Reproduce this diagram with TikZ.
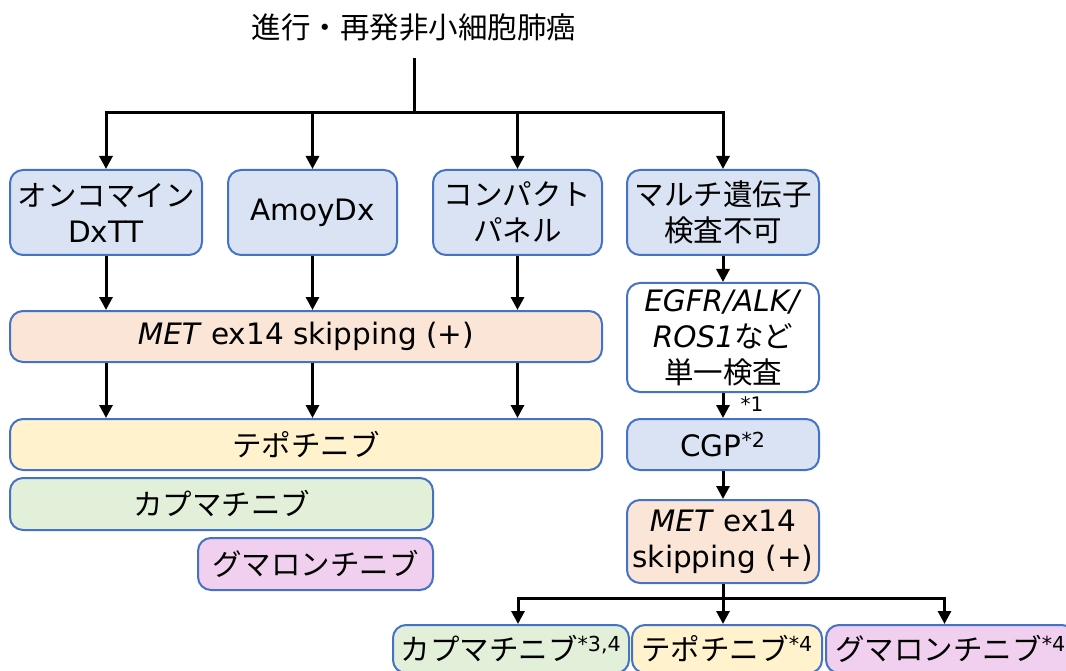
\documentclass[tikz,border=0pt]{standalone}
\usepackage{fontspec}
\setmainfont{DejaVu Sans}
\newfontfamily\jp{Noto Sans CJK JP}
\usetikzlibrary{arrows.meta}
\definecolor{edge}{HTML}{4472C4}
\definecolor{testblue}{HTML}{DAE3F3}
\definecolor{resultorange}{HTML}{FBE5D6}
\definecolor{tepoyellow}{HTML}{FFF2CC}
\definecolor{capmagreen}{HTML}{E2F0D9}
\definecolor{gumapink}{HTML}{F1CFEE}

\begin{document}
\begin{tikzpicture}[x=1pt,y=-1pt,>={Triangle[length=13pt,width=13pt]}]
	\tikzstyle{flow} = [align=center,font=\fontsize{29.5}{36}\selectfont,inner sep=0pt]
	\tikzstyle{box} = [draw=edge,line width=2pt,rounded corners=13pt,flow]
	\tikzstyle{test} = [box,fill=testblue]
	\tikzstyle{single} = [box,fill=white]
	\tikzstyle{result} = [box,fill=resultorange]
	\tikzstyle{tepodrug} = [box,fill=tepoyellow]
	\tikzstyle{capmadrug} = [box,fill=capmagreen]
	\tikzstyle{gumadrug} = [box,fill=gumapink]
	\tikzstyle{link} = [line width=3pt]
	\useasboundingbox (0,0) rectangle (1066,671);

	\node (title) [flow] at (414,27) {\jp 進行・再発非小細胞肺癌};
	\node (oncomine) [test,minimum width=192pt,minimum height=85pt] at (106,212.5) {{\jp オンコマイン}\\DxTT};
	\node (amoy) [test,minimum width=169pt,minimum height=85pt] at (312.5,212.5) {AmoyDx};
	\node (compact) [test,minimum width=169pt,minimum height=85pt] at (517.5,212.5) {\jp コンパクト\\\jp パネル};
	\node (multi) [test,minimum width=192pt,minimum height=85pt] at (723,212.5) {\jp マルチ遺伝子\\\jp 検査不可};
	\node (met) [result,minimum width=592pt,minimum height=51pt] at (306,336.5) {\textit{MET} ex14 skipping (+)};
	\node (tepo) [tepodrug,minimum width=592pt,minimum height=51pt] at (306,444.5) {\jp テポチニブ};
	\node (capma) [capmadrug,minimum width=423pt,minimum height=52pt] at (221.5,504) {\jp カプマチニブ};
	\node (guma) [gumadrug,minimum width=235pt,minimum height=52pt] at (315.5,564) {\jp グマロンチニブ};
	\node (single) [single,minimum width=192pt,minimum height=109pt] at (723,337.5) {\textit{EGFR/ALK/}\\\textit{ROS1}{\jp など}\\\jp 単一検査};
	\node (cgp) [test,minimum width=192pt,minimum height=51pt] at (723,444.5) {CGP\textsuperscript{*2}};
	\node (metsingle) [result,minimum width=192pt,minimum height=83pt] at (723,541.5) {\textit{MET} ex14\\skipping (+)};
	\node (capmab) [capmadrug,minimum width=236pt,minimum height=48pt] at (511,649) {{\jp カプマチニブ}\textsuperscript{*3,4}};
	\node (tepob) [tepodrug,minimum width=190pt,minimum height=48pt] at (727,649) {{\jp テポチニブ}\textsuperscript{*4}};
	\node (gumab) [gumadrug,minimum width=249pt,minimum height=48pt] at (950.5,649) {{\jp グマロンチニブ}\textsuperscript{*4}};
	\node (note1) [font=\fontsize{20}{24}\selectfont] at (752,404) {*1};

	\coordinate (stem) at (414,58);
	\coordinate (split) at (414,113);
	\draw[link] (stem) -- (split);
	\draw[link,->] (split) -| (oncomine);
	\draw[link,->] (split) -| (amoy);
	\draw[link,->] (split) -| (compact);
	\draw[link,->] (split) -| (multi);
	\draw[link,->] (oncomine) -- (oncomine |- met.north);
	\draw[link,->] (amoy) -- (amoy |- met.north);
	\draw[link,->] (compact) -- (compact |- met.north);
	\draw[link,->] (oncomine |- met.south) -- (oncomine |- tepo.north);
	\draw[link,->] (amoy |- met.south) -- (amoy |- tepo.north);
	\draw[link,->] (compact |- met.south) -- (compact |- tepo.north);
	\draw[link,->] (multi) -- (single);
	\draw[link,->] (single) -- (cgp);
	\draw[link,->] (cgp) -- (metsingle);
	\coordinate (split2) at (723,598);
	\draw[link] (metsingle) -- (split2);
	\draw[link,->] (split2) -| ([xshift=7pt]capmab.north);
	\draw[link,->] (split2) -- (split2 |- tepob.north);
	\draw[link,->] (split2) -| ([xshift=-6pt]gumab.north);
\end{tikzpicture}
\end{document}
